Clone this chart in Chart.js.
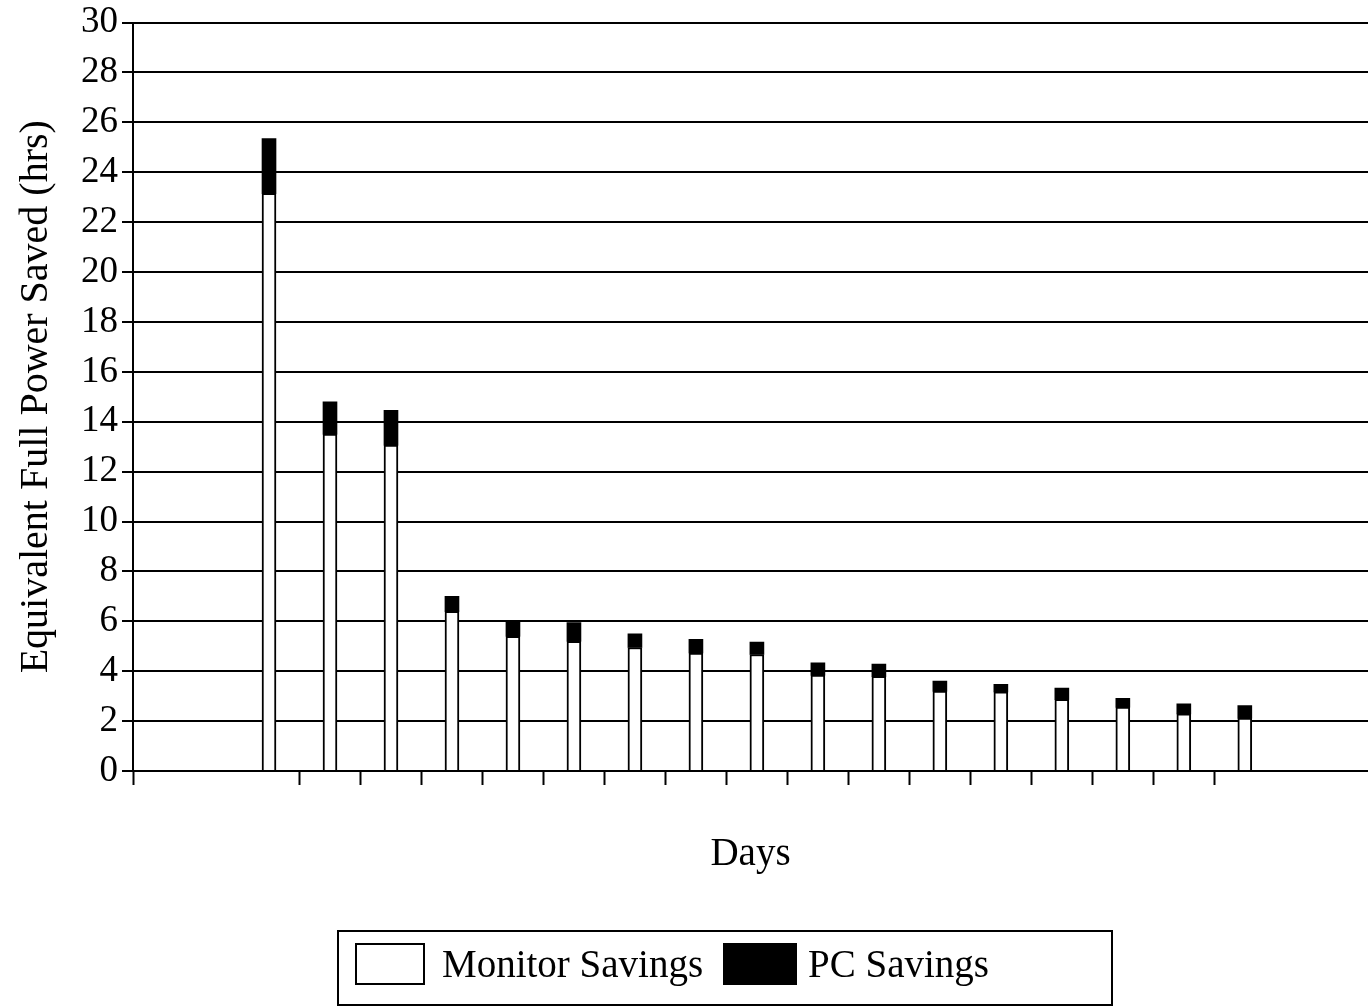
<!DOCTYPE html>
<html>
<head>
<meta charset="utf-8">
<title>Equivalent Full Power Saved</title>
<script src="https://cdn.jsdelivr.net/npm/chart.js@4.4.1/dist/chart.umd.min.js"></script>
<style>
	html, body { margin: 0; padding: 0; background: #fff; overflow: hidden; }
	#wrap { position: relative; width: 1368px; height: 1007px; }
	#legend {
		position: absolute; left: 337px; top: 930px; width: 776px; height: 76px;
		border: 2px solid #000; box-sizing: border-box;
		font-family: "Liberation Serif", "Times New Roman", serif; font-size: 39px; line-height: 39px; color: #000;
	}
	#legend .box { position: absolute; box-sizing: border-box; border: 2px solid #000; height: 42px; top: 11px; }
	#legend .txt { position: absolute; top: 12px; white-space: nowrap; }
</style>
</head>
<body>
<div id="wrap">
	<canvas id="savingsChart" width="1368" height="1007"></canvas>
	<div id="legend"></div>
</div>
<script>
// Day numbers (no tick labels are printed on the x axis)
const days = [1, 2, 3, 4, 5, 6, 7, 8, 9, 10, 11, 12, 13, 14, 15, 16, 17];

// Equivalent full power hours saved
const monitorSavings = [23.15, 13.5, 13.06, 6.4, 5.4, 5.2, 4.95, 4.73, 4.67, 3.84, 3.79, 3.2, 3.17, 2.87, 2.56, 2.29, 2.12];
const pcSavings      = [2.2, 1.3, 1.4, 0.6, 0.6, 0.75, 0.55, 0.55, 0.5, 0.5, 0.5, 0.4, 0.3, 0.45, 0.35, 0.4, 0.5];

const seriesNames = ["Monitor Savings", "PC Savings"];
const yTicks = [0, 2, 4, 6, 8, 10, 12, 14, 16, 18, 20, 22, 24, 26, 28, 30];

document.addEventListener('DOMContentLoaded', function() {
	try
	{
		const serif = '"Liberation Serif", "Times New Roman", serif';
		const ctx = document.getElementById("savingsChart").getContext("2d");

		new Chart(ctx, {
			type: "bar",
			data: {
				datasets: [{
					label: seriesNames[0],
					data: days.map((d, i) => ({ x: d, y: monitorSavings[i] })),
					backgroundColor: "#fff",
					borderColor: "#000",
					borderWidth: 2,
					barThickness: 14
				}, {
					label: seriesNames[1],
					data: days.map((d, i) => ({ x: d, y: pcSavings[i] })),
					backgroundColor: "#000",
					borderColor: "#000",
					borderWidth: 0,
					barThickness: 14
				}]
			},
			options: {
				responsive: false,
				animation: false,
				layout: { padding: { left: 0, top: 20, right: 0, bottom: 116 } },
				plugins: {
					legend: { display: false },
					tooltip: { enabled: false }
				},
				scales: {
					x: {
						type: "linear",
						stacked: true,
						offset: false,
						min: -1.23,
						max: 19.02,
						afterBuildTicks: function(scale) {
							scale.ticks = [{ value: scale.min }].concat(days.slice(0, -1).map(d => ({ value: d + 0.5 })));
						},
						afterFit: function(scale) { scale.height = 120; },
						ticks: { display: false },
						grid: {
							offset: false,
							drawOnChartArea: false,
							drawTicks: true,
							tickLength: 14,
							tickColor: "#000",
							tickWidth: 2
						},
						border: { display: true, color: "#000", width: 2 },
						title: {
							display: true,
							text: "Days",
							color: "#000",
							font: { family: serif, size: 39 },
							padding: { top: 0, bottom: 13 }
						}
					},
					y: {
						stacked: true,
						min: 0,
						max: 30,
						afterBuildTicks: function(scale) {
							scale.ticks = yTicks.map(v => ({ value: v }));
						},
						afterFit: function(scale) { scale.width = 133; },
						ticks: {
							color: "#000",
							padding: 4,
							font: { family: serif, size: 37, lineHeight: 1 }
						},
						grid: {
							color: "#000",
							lineWidth: 2,
							tickLength: 11,
							tickColor: "#000"
						},
						border: { display: true, color: "#000", width: 2 },
						title: {
							display: true,
							text: "Equivalent Full Power Saved (hrs)",
							color: "#000",
							font: { family: serif, size: 40 },
							padding: { top: 12, bottom: 0 }
						}
					}
				}
			}
		});

		// Legend (framed, below the chart)
		const legend = document.getElementById("legend");
		const legendFill = ["#fff", "#000"];
		const boxLeft = [16, 384];
		const boxWidth = [70, 74];
		const textLeft = [103, 469];
		seriesNames.forEach((name, i) => {
			const box = document.createElement("div");
			box.className = "box";
			box.style.left = boxLeft[i] + "px";
			box.style.width = boxWidth[i] + "px";
			box.style.background = legendFill[i];
			legend.appendChild(box);
			const txt = document.createElement("span");
			txt.className = "txt";
			txt.style.left = textLeft[i] + "px";
			txt.textContent = name;
			legend.appendChild(txt);
		});
	}
	catch (error) {
		console.error("Error loading chart:", error);
	}
});
</script>
</body>
</html>
